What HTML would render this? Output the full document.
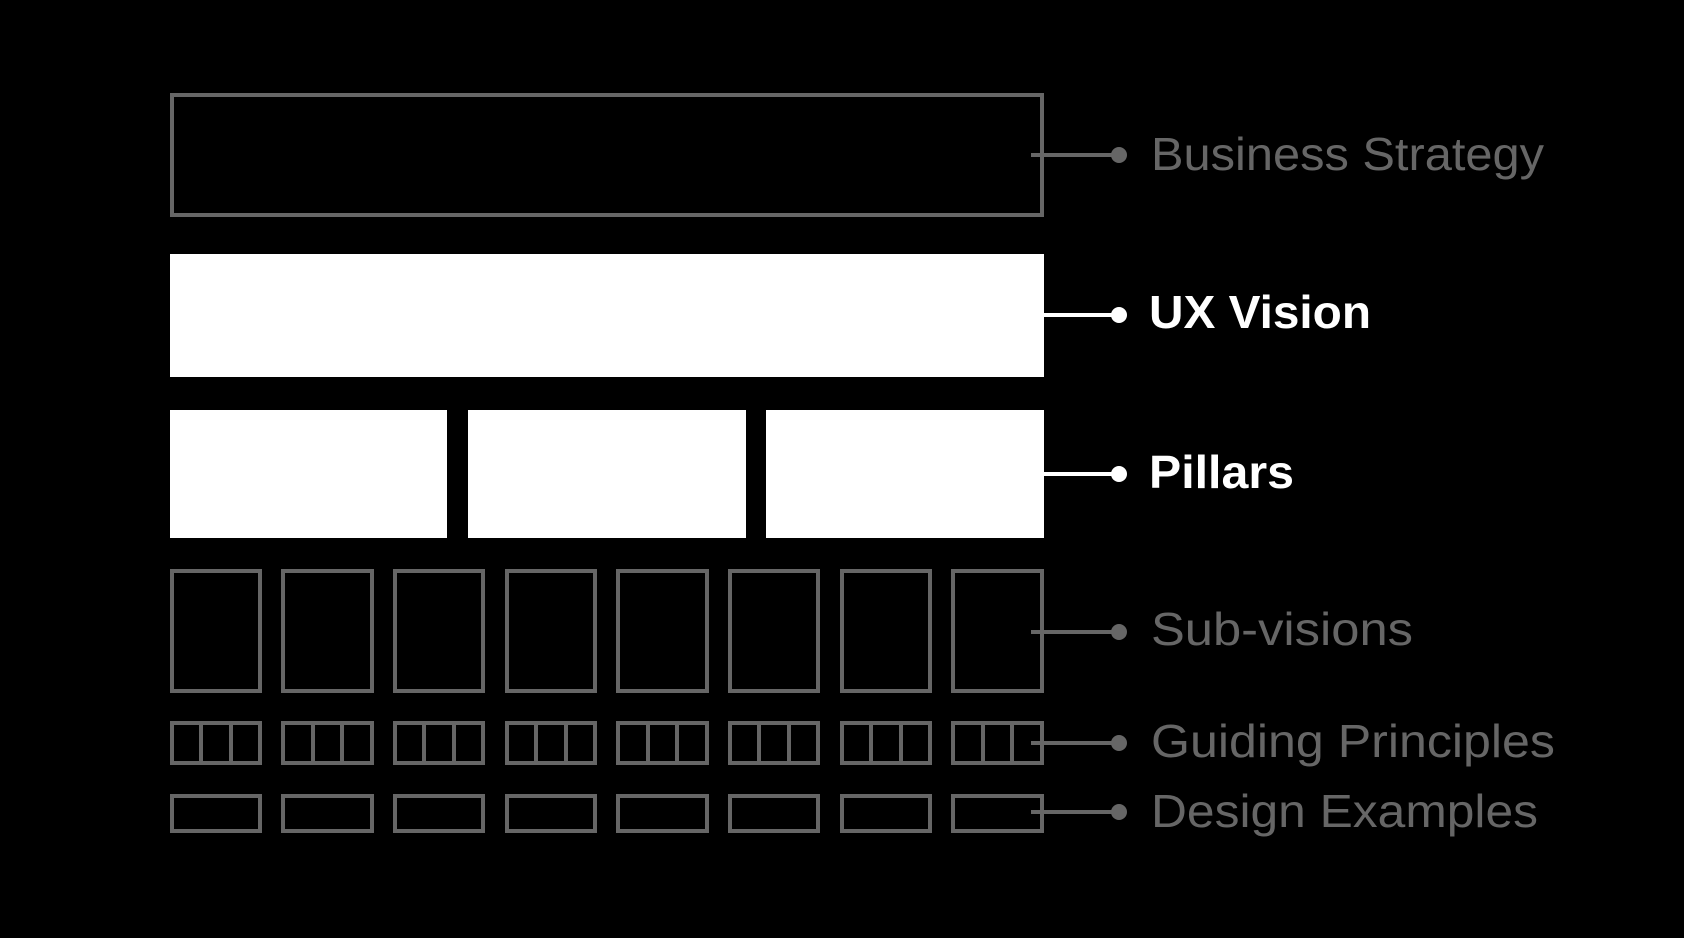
<!DOCTYPE html>
<html><head><meta charset="utf-8"><style>
html,body{margin:0;padding:0;background:#000;}
svg{display:block}
text{font-family:"Liberation Sans",sans-serif;}
</style></head><body>
<svg width="1684" height="938" viewBox="0 0 1684 938" xmlns="http://www.w3.org/2000/svg">
<rect width="1684" height="938" fill="#000"/>
<g fill="none" stroke="#666" stroke-width="4">
<rect x="172" y="95" width="870" height="120"/>
</g>
<rect x="170" y="254" width="874" height="123" fill="#fff"/>
<rect x="170" y="410" width="277" height="128" fill="#fff"/>
<rect x="468" y="410" width="278" height="128" fill="#fff"/>
<rect x="766" y="410" width="278" height="128" fill="#fff"/>
<g fill="none" stroke="#666" stroke-width="4">
<rect x="172" y="571" width="88" height="120"/>
<rect x="283" y="571" width="89" height="120"/>
<rect x="395" y="571" width="88" height="120"/>
<rect x="507" y="571" width="88" height="120"/>
<rect x="618" y="571" width="89" height="120"/>
<rect x="730" y="571" width="88" height="120"/>
<rect x="842" y="571" width="88" height="120"/>
<rect x="953" y="571" width="89" height="120"/>
</g>
<g fill="none" stroke="#666" stroke-width="4">
<rect x="172" y="723" width="88" height="40"/><line x1="201" y1="723" x2="201" y2="763"/><line x1="231" y1="723" x2="231" y2="763"/>
<rect x="283" y="723" width="89" height="40"/><line x1="313" y1="723" x2="313" y2="763"/><line x1="342" y1="723" x2="342" y2="763"/>
<rect x="395" y="723" width="88" height="40"/><line x1="424" y1="723" x2="424" y2="763"/><line x1="454" y1="723" x2="454" y2="763"/>
<rect x="507" y="723" width="88" height="40"/><line x1="536" y1="723" x2="536" y2="763"/><line x1="566" y1="723" x2="566" y2="763"/>
<rect x="618" y="723" width="89" height="40"/><line x1="648" y1="723" x2="648" y2="763"/><line x1="677" y1="723" x2="677" y2="763"/>
<rect x="730" y="723" width="88" height="40"/><line x1="759" y1="723" x2="759" y2="763"/><line x1="789" y1="723" x2="789" y2="763"/>
<rect x="842" y="723" width="88" height="40"/><line x1="871" y1="723" x2="871" y2="763"/><line x1="901" y1="723" x2="901" y2="763"/>
<rect x="953" y="723" width="89" height="40"/><line x1="983" y1="723" x2="983" y2="763"/><line x1="1012" y1="723" x2="1012" y2="763"/>
</g>
<g fill="none" stroke="#666" stroke-width="4">
<rect x="172" y="796" width="88" height="35"/>
<rect x="283" y="796" width="89" height="35"/>
<rect x="395" y="796" width="88" height="35"/>
<rect x="507" y="796" width="88" height="35"/>
<rect x="618" y="796" width="89" height="35"/>
<rect x="730" y="796" width="88" height="35"/>
<rect x="842" y="796" width="88" height="35"/>
<rect x="953" y="796" width="89" height="35"/>
</g>
<!-- connectors -->
<g stroke-width="4">
<line x1="1031" y1="155" x2="1118" y2="155" stroke="#666"/>
<line x1="1044" y1="315" x2="1118" y2="315" stroke="#fff"/>
<line x1="1044" y1="474" x2="1118" y2="474" stroke="#fff"/>
<line x1="1031" y1="632" x2="1118" y2="632" stroke="#666"/>
<line x1="1031" y1="743" x2="1118" y2="743" stroke="#666"/>
<line x1="1031" y1="812" x2="1118" y2="812" stroke="#666"/>
</g>
<circle cx="1119" cy="155" r="8" fill="#666"/>
<circle cx="1119" cy="315" r="8" fill="#fff"/>
<circle cx="1119" cy="474" r="8" fill="#fff"/>
<circle cx="1119" cy="632" r="8" fill="#666"/>
<circle cx="1119" cy="743" r="8" fill="#666"/>
<circle cx="1119" cy="812" r="8" fill="#666"/>
<g font-size="46">
<text x="1151" y="170" fill="#666" textLength="393" lengthAdjust="spacingAndGlyphs">Business Strategy</text>
<text x="1149" y="328" fill="#fff" font-weight="bold" textLength="222" lengthAdjust="spacingAndGlyphs">UX Vision</text>
<text x="1149" y="488" fill="#fff" font-weight="bold" textLength="145" lengthAdjust="spacingAndGlyphs">Pillars</text>
<text x="1151" y="645" fill="#666" textLength="262" lengthAdjust="spacingAndGlyphs">Sub-visions</text>
<text x="1151" y="757" fill="#666" textLength="404" lengthAdjust="spacingAndGlyphs">Guiding Principles</text>
<text x="1151" y="827" fill="#666" textLength="387" lengthAdjust="spacingAndGlyphs">Design Examples</text>
</g>
</svg>
</body></html>
